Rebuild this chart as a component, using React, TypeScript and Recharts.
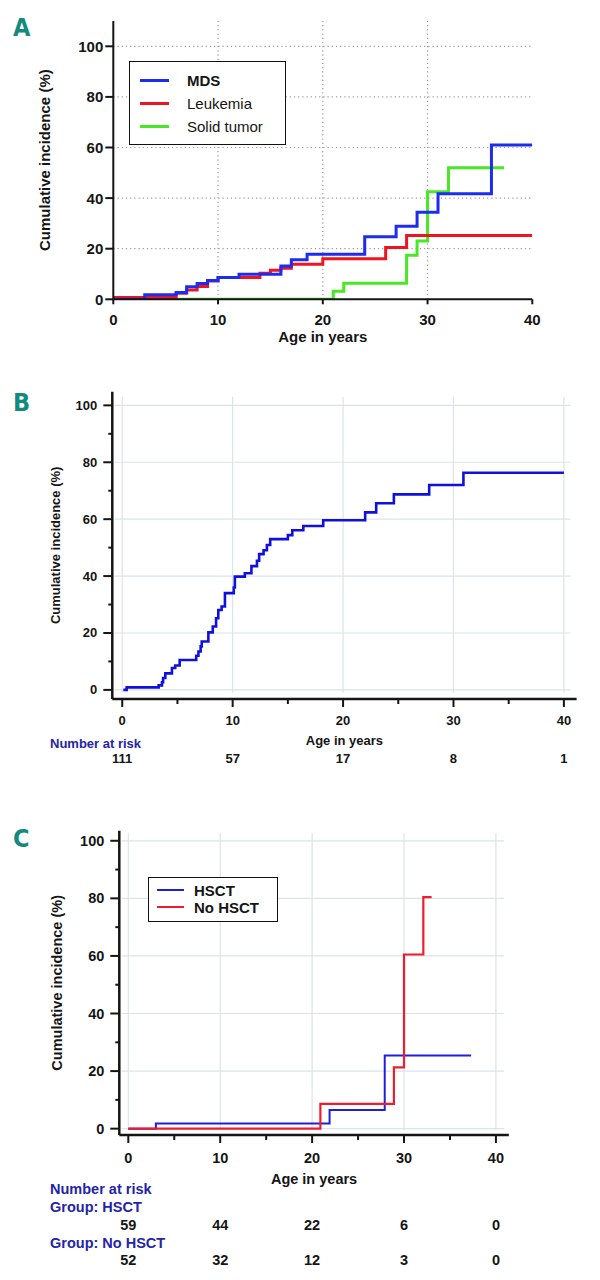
import React from 'react'
import { Legend, Line, LineChart, ReferenceLine, XAxis, YAxis, Label } from 'recharts'

const FONT = "'Liberation Sans', Arial, sans-serif"
const TEAL = '#138a7e'
const NAVY = '#2424a8'
const INK = '#151515'

// ---- panel A: cumulative incidence by malignancy type ----
const ageTicksA = [0, 10, 20, 30, 40]
const ciTicksA = [0, 20, 40, 60, 80, 100]
const gridAgeA = [10, 20, 30]
const gridCiA = [20, 40, 60, 80, 100]

const mdsAge = [0, 3, 6, 7, 8, 9, 10, 12, 16, 17, 18.5, 24, 27, 29, 31, 36.1, 40]
const mdsCI = [0, 1.8, 2.7, 5, 6.2, 7.4, 8.6, 9.9, 13.2, 15.6, 17.8, 24.7, 28.9, 34.4, 41.7, 61, 61]
const leukAge = [0, 6, 7, 8, 9, 10, 14, 15, 16, 17, 20, 26, 28, 40]
const leukCI = [0.7, 2.4, 3.7, 5.1, 7.2, 8.6, 10.3, 11.5, 12.3, 13.9, 16, 20.5, 25.2, 25.2]
const solidAge = [0, 21, 22, 28, 29, 30, 32, 37.3]
const solidCI = [0, 3.2, 6.3, 17.4, 23, 42.5, 52, 52]

const seriesA = [
  { name: 'MDS', color: '#1c2cf0', bold: true },
  { name: 'Leukemia', color: '#f01420', bold: false },
  { name: 'Solid tumor', color: '#48e824', bold: false },
]

// ---- panel B: overall cumulative incidence ----
const ageTicksB = [0, 5, 10, 15, 20, 25, 30, 35, 40]
const ciTicksB = [0, 10, 20, 30, 40, 50, 60, 70, 80, 90, 100]
const gridAgeB = [0, 10, 20, 30, 40]
const gridCiB = [0, 20, 40, 60, 80, 100]

const allAge = [0.1, 0.4, 3.3, 3.6, 3.7, 3.9, 4.5, 4.8, 5.2, 6.7, 6.9, 7.1, 7.2, 7.8, 8.2, 8.5, 8.7, 9.0, 9.3, 10.1, 10.2, 11.1, 11.7, 12.2, 12.4, 12.8, 13.1, 13.4, 15.0, 15.4, 16.4, 18.2, 22.0, 23.0, 24.6, 27.8, 30.9, 40]
const allCI = [0, 0.9, 1.6, 2.7, 4.2, 5.8, 7.7, 8.6, 10.5, 12, 13.5, 15.3, 17, 20.2, 22.3, 25.2, 28.1, 29.3, 34, 36, 39.8, 41, 43.5, 45.4, 47.7, 49.1, 50.9, 53, 54.4, 56.1, 57.6, 59.6, 62.4, 65.6, 68.7, 72, 76.3, 76.3]
const riskAll = [111, 57, 17, 8, 1]

// ---- panel C: by transplant ----
const hsctAge = [0, 3, 21.9, 27.9, 37.3]
const hsctCI = [0, 1.8, 6.5, 25.4, 25.4]
const noHsctAge = [0, 20.9, 28.9, 30, 32.1, 33]
const noHsctCI = [0, 8.6, 21.3, 60.5, 80.4, 80.4]
const riskHsct = [59, 44, 22, 6, 0]
const riskNoHsct = [52, 32, 12, 3, 0]

const seriesC = [
  { name: 'HSCT', color: '#1e1edc' },
  { name: 'No HSCT', color: '#ee1c2c' },
]

const zip = (xs: number[], ys: number[]) => xs.map((x, i) => ({ x, y: ys[i] }))

const PanelLetter = ({ text, top }: { text: string; top: number }) => (
  <div
    style={{
      position: 'absolute', left: 13, top, fontSize: 25, lineHeight: '25px',
      fontWeight: 'bold', color: TEAL,
      fontFamily: "'Liberation Sans Narrow', 'DejaVu Sans Condensed', sans-serif",
      fontStretch: 'condensed',
    }}
  >
    {text}
  </div>
)

const txt = (size: number) => ({ fontSize: size, fontWeight: 'bold' as const, fontFamily: FONT })

// y title drawn to the left of the axis
const yTitle = (dxFromAxis: number, size: number) => (props: any) => {
  const vb = props.viewBox
  const cx = vb.x + vb.width - dxFromAxis
  const cy = vb.y + vb.height / 2
  return (
    <text x={cx} y={cy} transform={`rotate(-90 ${cx} ${cy})`} textAnchor="middle"
      dominantBaseline="central" fill={INK} {...txt(size)}>
      Cumulative incidence (%)
    </text>
  )
}

const xTitle = (dy: number, size: number) => (props: any) => {
  const vb = props.viewBox
  return (
    <text x={vb.x + vb.width / 2} y={vb.y + dy} textAnchor="middle" dominantBaseline="central"
      fill={INK} {...txt(size)}>
      Age in years
    </text>
  )
}

// ---------- Panel A ----------
const XTickA = (p: any) => (
  <g>
    <line x1={p.x} x2={p.x} y1={p.y} y2={p.y + 5} stroke={INK} strokeWidth={2} />
    <text x={p.x} y={p.y + 20} textAnchor="middle" dominantBaseline="central" fill={INK} {...txt(15)}>
      {p.payload.value}
    </text>
  </g>
)

const YTickA = (p: any) => (
  <g>
    <line x1={p.x - 8} x2={p.x} y1={p.y} y2={p.y} stroke={INK} strokeWidth={2} />
    <text x={p.x - 10} y={p.y} textAnchor="end" dominantBaseline="central" fill={INK} {...txt(15)}>
      {p.payload.value}
    </text>
  </g>
)

const LegendA = () => (
  <div style={{
    width: 155, height: 82, border: '1.5px solid #111', background: '#fff',
    boxSizing: 'content-box', fontFamily: FONT, fontSize: 15, color: INK,
  }}>
    {seriesA.map((s, i) => (
      <div key={s.name} style={{ position: 'absolute', left: 11, top: 10 + i * 23, display: 'flex', alignItems: 'center', height: 18 }}>
        <div style={{ width: 29, height: 3, background: s.color }} />
        <span style={{ marginLeft: 18, fontWeight: s.bold ? 'bold' : 'normal' }}>{s.name}</span>
      </div>
    ))}
  </div>
)

const PanelA = () => (
  <div style={{ position: 'absolute', left: 0, top: 0 }}>
    <LineChart width={600} height={350} margin={{ top: 21, right: 67.7, bottom: 20.7, left: 53.3 }}>
      {gridAgeA.map(v => (
        <ReferenceLine key={'gx' + v} x={v} stroke="#9a9a9a" strokeWidth={1.2} strokeDasharray="1.2 3" />
      ))}
      {gridCiA.map(v => (
        <ReferenceLine key={'gy' + v} y={v} stroke="#9a9a9a" strokeWidth={1.2} strokeDasharray="1.2 3" />
      ))}
      <XAxis type="number" dataKey="x" domain={[0, 40]} ticks={ageTicksA} interval={0}
        allowDataOverflow height={30} tickLine={false} tickSize={0} tickMargin={0}
        tick={XTickA} axisLine={{ stroke: INK, strokeWidth: 2 }}>
        <Label content={xTitle(37, 15)} />
      </XAxis>
      <YAxis type="number" domain={[0, 110]} ticks={ciTicksA} interval={0} allowDataOverflow
        width={60} tickLine={false} tickSize={0} tickMargin={0} tick={YTickA}
        axisLine={{ stroke: INK, strokeWidth: 2 }}>
        <Label content={yTitle(69, 15)} />
      </YAxis>
      <Line data={zip(solidAge, solidCI)} dataKey="y" name="Solid tumor" type="stepAfter" dot={false}
        stroke={seriesA[2].color} strokeWidth={3} isAnimationActive={false} />
      <Line data={zip(leukAge, leukCI)} dataKey="y" name="Leukemia" type="stepAfter" dot={false}
        stroke={seriesA[1].color} strokeWidth={3} isAnimationActive={false} />
      <Line data={zip(mdsAge, mdsCI)} dataKey="y" name="MDS" type="stepAfter" dot={false}
        stroke={seriesA[0].color} strokeWidth={3} isAnimationActive={false} />
      <Legend layout="horizontal" align="center" verticalAlign="middle" content={LegendA}
        wrapperStyle={{ left: 129, top: 61, width: 'auto', height: 'auto' }} />
    </LineChart>
  </div>
)

// ---------- Panel B ----------
const XTickB = (p: any) => {
  const v = p.payload.value
  const major = v % 10 === 0
  return (
    <g>
      <line x1={p.x} x2={p.x} y1={p.y} y2={p.y + (major ? 8 : 5)} stroke={INK} strokeWidth={2} />
      {major && (
        <text x={p.x} y={p.y + 21} textAnchor="middle" dominantBaseline="central" fill={INK} {...txt(13)}>{v}</text>
      )}
      {major && (
        <text x={p.x} y={p.y + 59} textAnchor="middle" dominantBaseline="central" fill={INK} {...txt(13)}>
          {riskAll[v / 10]}
        </text>
      )}
      {v === 0 && (
        <text x={50} y={p.y + 44} textAnchor="start" dominantBaseline="central" fill={NAVY} {...txt(13)}>
          Number at risk
        </text>
      )}
    </g>
  )
}

const YTickB = (p: any) => {
  const v = p.payload.value
  const major = v % 20 === 0
  return (
    <g>
      <line x1={p.x - (major ? 9 : 4)} x2={p.x} y1={p.y} y2={p.y} stroke={INK} strokeWidth={2} />
      {major && (
        <text x={p.x - 15} y={p.y} textAnchor="end" dominantBaseline="central" fill={INK} {...txt(13)}>{v}</text>
      )}
    </g>
  )
}

const PanelB = () => (
  <div style={{ position: 'absolute', left: 0, top: 360 }}>
    <LineChart width={600} height={420} margin={{ top: 31.7, right: 23.4, bottom: 51, left: 52.3 }}>
      {gridAgeB.map(v => (
        <ReferenceLine key={'gx' + v} segment={[{ x: v, y: -1 }, { x: v, y: 103 }]} stroke="#dde3ea" strokeWidth={1.2} />
      ))}
      {gridCiB.map(v => (
        <ReferenceLine key={'gy' + v} segment={[{ x: -0.7, y: v }, { x: 40.6, y: v }]} stroke="#dde3ea" strokeWidth={1.2} />
      ))}
      <XAxis type="number" dataKey="x" domain={[-0.9, 41.15]} ticks={ageTicksB} interval={0}
        allowDataOverflow height={30} tickLine={false} tickSize={0} tickMargin={0}
        tick={XTickB} axisLine={{ stroke: INK, strokeWidth: 2.5 }}>
        <Label content={xTitle(41, 13)} />
      </XAxis>
      <YAxis type="number" domain={[-3.2, 104.8]} ticks={ciTicksB} interval={0} allowDataOverflow
        width={60} tickLine={false} tickSize={0} tickMargin={0} tick={YTickB}
        axisLine={{ stroke: INK, strokeWidth: 2.5 }}>
        <Label content={yTitle(57, 13)} />
      </YAxis>
      <Line data={zip(allAge, allCI)} dataKey="y" name="All" type="stepAfter" dot={false}
        stroke="#1010dc" strokeWidth={2.6} isAnimationActive={false} />
    </LineChart>
  </div>
)

// ---------- Panel C ----------
const XTickC = (p: any) => {
  const v = p.payload.value
  const major = v % 10 === 0
  const t = (dy: number, s: React.ReactNode, x = p.x, anchor = 'middle', fill = INK) => (
    <text x={x} y={p.y + dy} textAnchor={anchor as any} dominantBaseline="central" fill={fill} {...txt(14.5)}>{s}</text>
  )
  return (
    <g>
      <line x1={p.x} x2={p.x} y1={p.y} y2={p.y + (major ? 8 : 5)} stroke={INK} strokeWidth={2} />
      {major && t(23, v)}
      {major && t(90, riskHsct[v / 10])}
      {major && t(125, riskNoHsct[v / 10])}
      {v === 0 && t(54, 'Number at risk', 50, 'start', NAVY)}
      {v === 0 && t(72, 'Group: HSCT', 50, 'start', NAVY)}
      {v === 0 && t(108, 'Group: No HSCT', 50, 'start', NAVY)}
    </g>
  )
}

const YTickC = (p: any) => {
  const v = p.payload.value
  const major = v % 20 === 0
  return (
    <g>
      <line x1={p.x - (major ? 9 : 4)} x2={p.x} y1={p.y} y2={p.y} stroke={INK} strokeWidth={2} />
      {major && (
        <text x={p.x - 15} y={p.y} textAnchor="end" dominantBaseline="central" fill={INK} {...txt(14.5)}>{v}</text>
      )}
    </g>
  )
}

const LegendC = () => (
  <div style={{
    width: 128, height: 43, border: '1.5px solid #111', background: '#fff',
    fontFamily: FONT, fontSize: 15, fontWeight: 'bold', color: INK,
  }}>
    {seriesC.map((s, i) => (
      <div key={s.name} style={{ position: 'absolute', left: 9, top: 4 + i * 17, display: 'flex', alignItems: 'center', height: 18 }}>
        <div style={{ width: 27, height: 2, background: s.color }} />
        <span style={{ marginLeft: 10 }}>{s.name}</span>
      </div>
    ))}
  </div>
)

const PanelC = () => (
  <div style={{ position: 'absolute', left: 0, top: 800 }}>
    <LineChart width={600} height={480} margin={{ top: 30.7, right: 91.2, bottom: 115, left: 59.3 }}>
      {gridAgeB.map(v => (
        <ReferenceLine key={'gx' + v} segment={[{ x: v, y: -0.5 }, { x: v, y: 102.7 }]} stroke="#dde3ea" strokeWidth={1.2} />
      ))}
      {gridCiB.map(v => (
        <ReferenceLine key={'gy' + v} segment={[{ x: -0.7, y: v }, { x: 40.9, y: v }]} stroke="#dde3ea" strokeWidth={1.2} />
      ))}
      <XAxis type="number" dataKey="x" domain={[-0.98, 41.4]} ticks={ageTicksB} interval={0}
        allowDataOverflow height={30} tickLine={false} tickSize={0} tickMargin={0}
        tick={XTickC} axisLine={{ stroke: INK, strokeWidth: 2.5 }}>
        <Label content={xTitle(44, 14.5)} />
      </XAxis>
      <YAxis type="number" domain={[-2.2, 103.5]} ticks={ciTicksB} interval={0} allowDataOverflow
        width={60} tickLine={false} tickSize={0} tickMargin={0} tick={YTickC}
        axisLine={{ stroke: INK, strokeWidth: 2.5 }}>
        <Label content={yTitle(62, 14.5)} />
      </YAxis>
      <Line data={zip(hsctAge, hsctCI)} dataKey="y" name="HSCT" type="stepAfter" dot={false}
        stroke={seriesC[0].color} strokeWidth={2} isAnimationActive={false} />
      <Line data={zip(noHsctAge, noHsctCI)} dataKey="y" name="No HSCT" type="stepAfter" dot={false}
        stroke={seriesC[1].color} strokeWidth={2.2} isAnimationActive={false} />
      <Legend layout="horizontal" align="center" verticalAlign="middle" content={LegendC}
        wrapperStyle={{ left: 148, top: 77, width: 'auto', height: 'auto' }} />
    </LineChart>
  </div>
)

export default function App() {
  return (
    <div style={{ position: 'absolute', left: 0, top: 0, width: 600, height: 1280, background: '#fff' }}>
      <PanelA />
      <PanelB />
      <PanelC />
      <PanelLetter text="A" top={15} />
      <PanelLetter text="B" top={390} />
      <PanelLetter text="C" top={826} />
    </div>
  )
}
